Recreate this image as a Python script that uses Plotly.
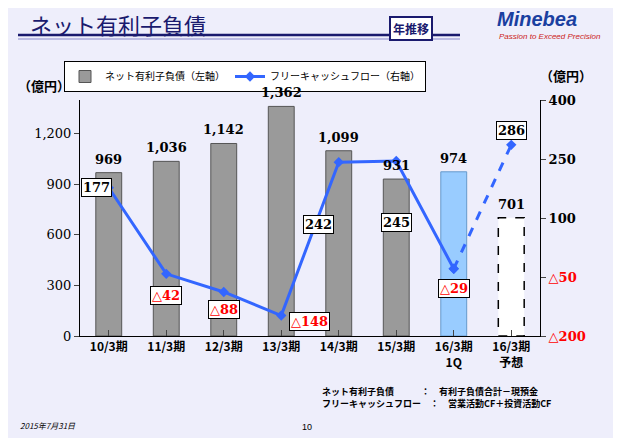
import plotly.graph_objects as go

cats = ["10/3期", "11/3期", "12/3期", "13/3期", "14/3期", "15/3期", "16/3期<br>1Q", "16/3期<br>予想"]
debt = [969, 1036, 1142, 1362, 1099, 931, 974, 701]
fcf = [177, -42, -88, -148, 242, 245, -29, 286]
lbl_off = [(-12, 0), (0, 22), (0, 18), (28, 6), (-20, 62), (0, 62), (0, 20), (0, -14)]

F = "Noto Sans CJK JP"
S = 8  # page body margin offset
W, H = 621, 438
L, R, T, B = 80 - S, W - 540 + S, 100 - S, H - 336 + S
PW, PH = W - L - R, H - T - B

fig = go.Figure()
colors = ["#9a9a9a"] * 6 + ["#99ccff", "rgba(255,255,255,1)"]
lines = ["#555555"] * 6 + ["#6699cc", "rgba(0,0,0,0)"]
fig.add_bar(x=list(range(8)), y=debt, marker=dict(color=colors, line=dict(color=lines, width=1)),
            width=0.45, name="ネット有利子負債（左軸）")
fig.add_scatter(x=list(range(7)), y=fcf[:7], yaxis="y2", mode="lines+markers",
                line=dict(color="#3366ff", width=3), marker=dict(symbol="diamond", size=8),
                name="フリーキャッシュフロー（右軸）")
fig.add_scatter(x=[6, 7], y=fcf[6:], yaxis="y2", mode="lines+markers",
                line=dict(color="#3366ff", width=3, dash="dash"), marker=dict(symbol="diamond", size=8),
                showlegend=False)
fig.add_shape(type="rect", xref="x", yref="y", x0=7 - 0.225, x1=7 + 0.225, y0=0, y1=debt[7],
              line=dict(color="black", width=1.5, dash="dash"))
for i, v in enumerate(debt):
    fig.add_annotation(x=i, y=v, text=f"<b>{v:,}</b>", showarrow=False, yanchor="bottom", yshift=4,
                       font=dict(family="DejaVu Serif", size=13, color="black"))
for i, v in enumerate(fcf):
    t = f"{v}" if v >= 0 else f"△{-v}"
    fig.add_annotation(x=i, y=v, yref="y2", text=f"<b>{t}</b>", showarrow=True, arrowcolor="rgba(0,0,0,0)",
                       ax=lbl_off[i][0], ay=lbl_off[i][1], bgcolor="white", bordercolor="black", borderwidth=1,
                       font=dict(family="DejaVu Serif", size=13, color="black" if v >= 0 else "red"))

def px(x): return (x - S - L) / PW
def py(y): return (H - (y - S) - B) / PH

rv = [400, 250, 100, -50, -200]
rt = [f"<b>{v}</b>" if v >= 0 else f"<b><span style='color:red'>△{-v}</span></b>" for v in rv]
fig.update_layout(
    width=W, height=H, margin=dict(l=L, r=R, t=T, b=B, autoexpand=False),
    paper_bgcolor="#eeeefb", plot_bgcolor="rgba(0,0,0,0)",
    font=dict(family=F, size=13, color="black"),
    xaxis=dict(tickvals=list(range(8)), ticktext=[f"<b>{c}</b>" for c in cats], range=[-0.5, 7.5],
               showline=True, linecolor="black", ticks="inside", ticklen=6, showgrid=False,
               tickfont=dict(family=F, size=12)),
    yaxis=dict(range=[0, 1400], tickvals=[0, 300, 600, 900, 1200], tickformat=",",
               showgrid=False, zeroline=False, showline=True, linecolor="black", ticks="outside", ticklen=5,
               tickfont=dict(family="DejaVu Serif", size=13)),
    yaxis2=dict(range=[-200, 400], overlaying="y", side="right", tickvals=rv, ticktext=rt,
                showgrid=False, zeroline=False, showline=True, linecolor="black", ticks="outside", ticklen=5,
                tickfont=dict(family="DejaVu Serif", size=13)),
    legend=dict(orientation="h", x=px(245), y=py(61), xanchor="center", yanchor="top",
                bgcolor="white", bordercolor="black", borderwidth=1, font=dict(size=10), itemwidth=30,
                tracegroupgap=0),
    showlegend=True,
)
ann = [
    dict(x=28, y=6, text="ネット有利子負債", font=dict(size=22, color="#1a1a6e")),
    dict(x=16, y=74, text="<b>（億円）</b>", font=dict(size=13)),
    dict(x=538, y=64, text="<b>（億円）</b>", font=dict(size=13)),
    dict(x=495, y=6, text="<b><i>Minebea</i></b>", font=dict(family="Liberation Sans", size=20, color="#1a3fa0")),
    dict(x=497, y=30, text="<i>Passion to Exceed Precision</i>", font=dict(family="Liberation Sans", size=8, color="#cc2222")),
    dict(x=320, y=383, text="<b>ネット有利子負債　　　：　有利子負債合計－現預金<br>フリーキャッシュフロー　：　営業活動CF＋投資活動CF</b>", font=dict(size=9), align="left"),
    dict(x=18, y=418, text="<i>2015年7月31日</i>", font=dict(size=8)),
    dict(x=300, y=420, text="10", font=dict(family="Liberation Sans", size=9)),
]
for a in ann:
    fig.add_annotation(xref="paper", yref="paper", xanchor="left", yanchor="top", showarrow=False,
                       text=a["text"], font=a["font"], align=a.get("align", "center"),
                       x=px(a["x"]), y=py(a["y"]))
fig.add_annotation(xref="paper", yref="paper", x=px(433), y=py(16), text="<b>年推移</b>",
                   showarrow=False, font=dict(size=12, color="#1a1a6e"), bordercolor="#1a1a6e",
                   borderwidth=2, bgcolor="white", borderpad=2)
fig.add_shape(type="line", xref="paper", yref="paper", x0=px(18), x1=px(460), y0=py(35), y1=py(35),
              line=dict(color="#1a1a6e", width=2.5))
fig.add_shape(type="line", xref="paper", yref="paper", x0=px(18), x1=px(460), y0=py(39), y1=py(39),
              line=dict(color="#8888cc", width=1))
fig.write_html("out.html")
